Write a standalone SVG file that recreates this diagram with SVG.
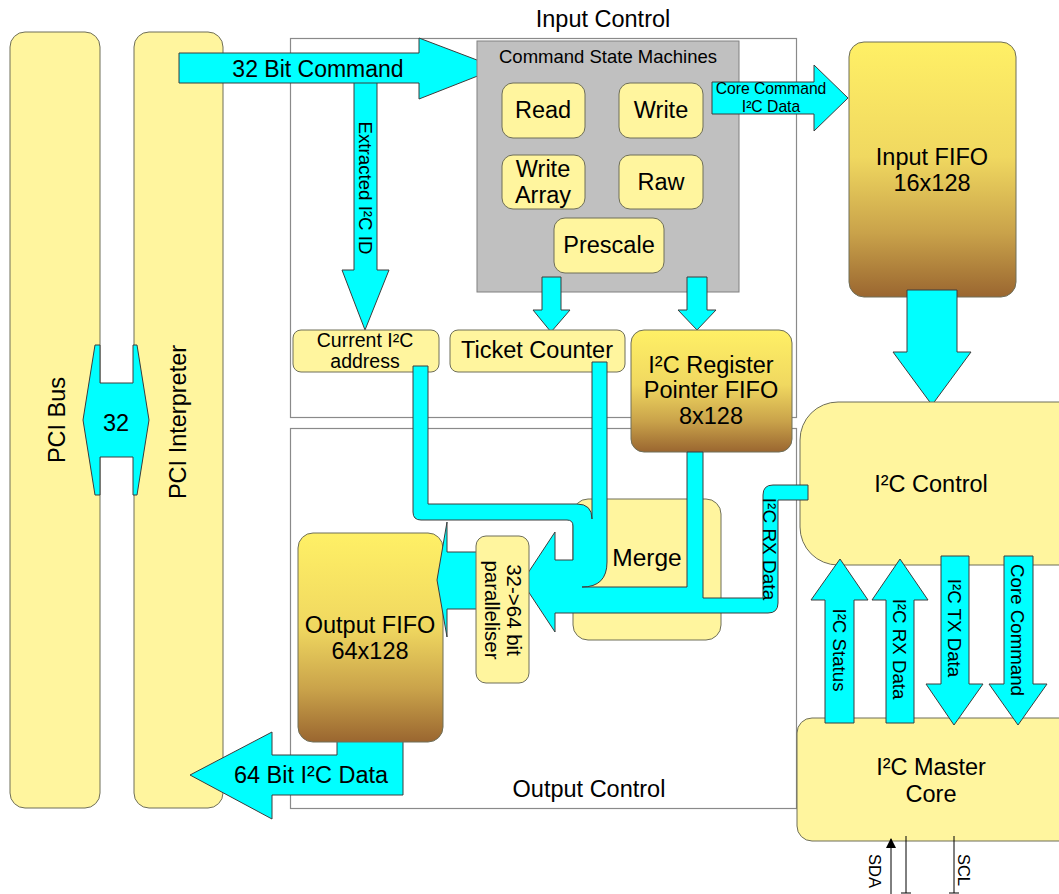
<svg xmlns="http://www.w3.org/2000/svg" width="1059" height="894" viewBox="0 0 1059 894">
<defs>
<linearGradient id="fifo" x1="0" y1="0" x2="0" y2="1">
<stop offset="0" stop-color="#FFF066"/>
<stop offset="0.45" stop-color="#F0D860"/>
<stop offset="0.75" stop-color="#C9A24A"/>
<stop offset="1" stop-color="#9A6630"/>
</linearGradient>
<marker id="ah" viewBox="0 0 10 10" refX="9" refY="5" markerWidth="10" markerHeight="10" markerUnits="userSpaceOnUse" orient="auto"><path d="M0,0 L10,5 L0,10 z" fill="#000"/></marker>
</defs>
<style>
.box{fill:#FFF59E;stroke:#6e6e58;stroke-width:1}
.fifo{fill:url(#fifo);stroke:#6e6e58;stroke-width:1}
.cy{fill:#00FFFF;stroke:#3c3c3c;stroke-width:1;stroke-linejoin:round}
.frame{fill:none;stroke:#8a8a8a;stroke-width:1.2}
.t{font-family:"Liberation Sans",Arial,sans-serif;fill:#000;text-anchor:middle}
.big{font-size:23.5px}
.vl{font-size:18.7px}
.wire{stroke:#000;stroke-width:1;fill:none}
</style>
<rect width="1059" height="894" fill="#fff"/>
<g id="input-control"><rect class="frame" x="290.5" y="38.5" width="506" height="379"/><text class="t big" x="603" y="27">Input Control</text></g>
<g id="output-control"><rect class="frame" x="290.5" y="428.5" width="506" height="380"/><text class="t big" x="589" y="797">Output Control</text></g>
<g id="pci-bus"><rect class="box" x="10" y="32" width="90" height="776" rx="15"/><text class="t big" transform="translate(57,420) rotate(-90)" dy="0.35em">PCI Bus</text></g>
<g id="pci-interpreter"><rect class="box" x="134" y="32" width="89" height="776" rx="15"/><text class="t big" transform="translate(178,422) rotate(-90)" dy="0.35em">PCI Interpreter</text></g>
<g id="connectors-top">
<path class="cy" d="M83,420 L95,345 L100,345 L100,383 L133,383 L133,345 L137,345 L149,420 L137,495 L133,495 L133,457 L100,457 L100,495 L95,495 Z"/>
<text class="t big" x="116" y="431">32</text>
<path class="cy" d="M354,80 L377,80 L377,270 L389,270 L365,330 L342,270 L354,270 Z"/>
<text class="t vl" transform="translate(366,188) rotate(90)" dy="0.35em">Extracted I²C ID</text>
<path class="cy" d="M179,53 L419,53 L419,38 L498,68 L419,99 L419,83 L179,83 Z"/>
<text class="t" x="318" y="77" font-size="23">32 Bit Command</text>
</g>
<g id="command-state-machines"><rect x="477" y="41" width="262" height="251" fill="#C0C0C0" stroke="#808080"/><text class="t" x="608" y="63" font-size="18.5">Command State Machines</text></g>
<g id="read"><rect class="box" x="502" y="83" width="83" height="55" rx="11"/><text class="t big" x="543" y="118">Read</text></g>
<g id="write"><rect class="box" x="619" y="83" width="84" height="55" rx="11"/><text class="t big" x="661" y="118">Write</text></g>
<g id="write-array"><rect class="box" x="502" y="155" width="83" height="54" rx="11"/><text class="t big" x="543" y="177">Write</text><text class="t big" x="543" y="203">Array</text></g>
<g id="raw"><rect class="box" x="619" y="155" width="84" height="54" rx="11"/><text class="t big" x="661" y="190">Raw</text></g>
<g id="prescale"><rect class="box" x="554" y="218" width="110" height="55" rx="11"/><text class="t big" x="609" y="253">Prescale</text></g>
<g id="connectors-csm">
<path class="cy" d="M542,277 L561,277 L561,310 L570,310 L551,332 L533,310 L542,310 Z"/>
<path class="cy" d="M687,277 L707,277 L707,310 L716,310 L697,330 L678,310 L687,310 Z"/>
</g>
<g id="current-address"><rect class="box" x="293" y="330" width="146" height="42" rx="8"/><text class="t" x="365" y="347" font-size="19.5">Current I²C</text><text class="t" x="365" y="368" font-size="19.5">address</text></g>
<g id="ticket-counter"><rect class="box" x="450" y="330" width="175" height="42" rx="8"/><text class="t big" x="537" y="358">Ticket Counter</text></g>
<g id="register-fifo"><rect class="fifo" x="631" y="330" width="161" height="122" rx="13"/><text class="t big" x="711" y="373">I²C Register</text><text class="t big" x="711" y="398">Pointer FIFO</text><text class="t big" x="711" y="424">8x128</text></g>
<g id="connector-core-cmd"><path class="cy" d="M712,82 L814,82 L814,65 L848,98 L814,131 L814,114 L712,114 Z"/><text class="t" x="771" y="94" font-size="15.7">Core Command</text><text class="t" x="771" y="112" font-size="15.7">I²C Data</text></g>
<g id="input-fifo"><rect class="fifo" x="849" y="42" width="167" height="255" rx="15"/><text class="t big" x="932" y="165">Input FIFO</text><text class="t big" x="932" y="191">16x128</text></g>
<g id="connector-fifo-ctrl"><path class="cy" d="M907,290 L957,290 L957,352 L971,352 L932,405 L893,352 L907,352 Z"/></g>
<g id="i2c-control"><rect class="box" x="800" y="402" width="300" height="163" rx="38"/><text class="t big" x="931" y="492">I²C Control</text></g>
<g id="i2c-master-core"><rect class="box" x="797" y="718" width="300" height="123" rx="15"/><text class="t big" x="931" y="775">I²C Master</text><text class="t big" x="931" y="802">Core</text></g>
<g id="connectors-core">
<path class="cy" d="M825,723 L825,600 L811,600 L840,559 L868,600 L854,600 L854,723 Z"/>
<path class="cy" d="M886,723 L886,600 L872,600 L900,559 L928,600 L914,600 L914,723 Z"/>
<path class="cy" d="M941,556 L969,556 L969,684 L983,684 L954,725 L926,684 L941,684 Z"/>
<path class="cy" d="M1004,556 L1033,556 L1033,684 L1047,684 L1018,725 L989,684 L1004,684 Z"/>
<text class="t vl" transform="translate(840,650) rotate(90)" dy="0.35em">I²C Status</text>
<text class="t vl" transform="translate(900,649) rotate(90)" dy="0.35em">I²C RX Data</text>
<text class="t vl" transform="translate(955,628) rotate(90)" dy="0.35em">I²C TX Data</text>
<text class="t vl" transform="translate(1018,630) rotate(90)" dy="0.35em">Core Command</text>
</g>
<g id="merge"><rect class="box" x="573" y="499" width="148" height="141" rx="15"/><text class="t" x="647" y="566" font-size="24.5">Merge</text></g>
<g id="connector-64bit"><path class="cy" d="M190,775 L272,732 L272,755 L337,755 L337,738 L403,738 L403,795 L272,795 L272,819 Z"/><text class="t big" x="311" y="783">64 Bit I²C Data</text></g>
<g id="output-fifo"><rect class="fifo" x="298" y="533" width="145" height="209" rx="15"/><text class="t big" x="370" y="633">Output FIFO</text><text class="t big" x="370" y="659">64x128</text></g>
<g id="connector-merge">
<path class="cy" d="M522,582 L555,532 L555,560 L573,560 L573,526 Q573,520 567,520 L421,520 Q413,520 413,512 L413,366 L428,366 L428,504 L577,504 Q592,504 592,519 L592,362 L607,362 L607,562 Q607,587 582,587 L687,587 L687,452 L703,452 L703,598 L763,598 L763,495 Q763,485 773,485 L808,485 L808,500 L778,500 L778,603 Q778,613 768,613 L555,613 L555,632 Z"/>
<text class="t" font-size="19" transform="translate(770,549) rotate(90)" dy="0.35em">I²C RX Data</text>
</g>
<g id="connector-par-fifo"><path class="cy" d="M437,580 L447,522 L447,552 L480,552 L480,609 L447,609 L447,637 Z"/></g>
<g id="parallelizer"><rect class="box" x="476" y="536" width="53" height="147" rx="10"/><text class="t" font-size="20.5" transform="translate(502,610) rotate(90)"><tspan x="0" dy="-0.25em">32-&gt;64 bit</tspan><tspan x="0" dy="1.1em">paralleliser</tspan></text></g>
<g id="bus-lines">
<line class="wire" x1="891" y1="894" x2="891" y2="839" marker-end="url(#ah)"/>
<line class="wire" x1="906" y1="836" x2="906" y2="893"/>
<line class="wire" x1="954" y1="836" x2="954" y2="893"/>
<line class="wire" x1="901" y1="893" x2="911" y2="893"/>
<line class="wire" x1="949" y1="893" x2="959" y2="893"/>
<text class="t" font-size="16.5" transform="translate(875,871) rotate(90)" dy="0.35em">SDA</text>
<text class="t" font-size="16.5" transform="translate(964,870) rotate(90)" dy="0.35em">SCL</text>
</g>
</svg>
